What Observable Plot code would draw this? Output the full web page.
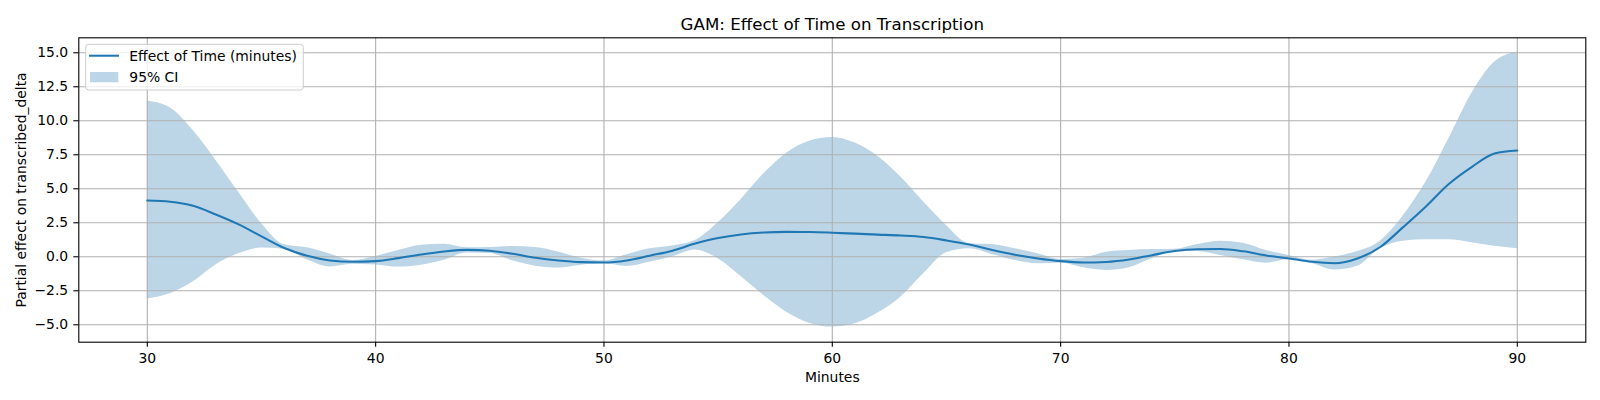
<!DOCTYPE html>
<html>
<head>
<meta charset="utf-8">
<script src="https://cdn.jsdelivr.net/npm/d3@7"></script>
<script src="https://cdn.jsdelivr.net/npm/@observablehq/plot@0.6"></script>
<style>
  html, body { margin: 0; padding: 0; background: white; }
  #chart { width: 1600px; height: 400px; }
</style>
</head>
<body>
<div id="chart"></div>
<script>
const minutes = [30,31,32,33,34,35,36,37,38,39,40,41,42,43,44,45,46,47,48,49,50,51,52,53,54,55,56,57,58,59,60,61,62,63,64,65,66,67,68,69,70,71,72,73,74,75,76,77,78,79,80,81,82,83,84,85,86,87,88,89,90];
const effect = [4.14,4.05,3.75,3.11,2.38,1.5,0.64,0.07,-0.27,-0.37,-0.32,-0.1,0.17,0.39,0.51,0.44,0.22,-0.07,-0.27,-0.39,-0.42,-0.27,0.08,0.45,0.97,1.38,1.64,1.78,1.83,1.82,1.77,1.7,1.63,1.56,1.45,1.2,0.9,0.5,0.15,-0.12,-0.32,-0.42,-0.38,-0.2,0.12,0.42,0.55,0.57,0.4,0.1,-0.12,-0.37,-0.47,-0.12,0.72,2.18,3.7,5.35,6.6,7.6,7.82];
const ciUpper = [11.45,10.95,9.3,7.1,4.75,2.45,0.88,0.66,0.2,-0.27,0.03,0.47,0.85,0.92,0.66,0.69,0.76,0.68,0.35,-0.1,-0.3,0.15,0.59,0.8,1.2,2.5,4.2,6.1,7.62,8.5,8.77,8.36,7.38,5.86,4.02,2.3,0.96,0.9,0.59,0.22,-0.2,-0.1,0.34,0.47,0.54,0.56,0.91,1.15,1.0,0.47,0.1,-0.25,-0.02,0.38,1.15,3.0,5.49,8.68,11.99,14.3,15.05];
const ciLower = [-3.11,-2.72,-1.86,-0.6,0.22,0.64,0.55,-0.22,-0.75,-0.55,-0.6,-0.76,-0.62,-0.25,0.27,0.25,-0.3,-0.69,-0.82,-0.62,-0.5,-0.71,-0.4,0.0,0.5,-0.15,-1.45,-2.84,-4.07,-4.88,-5.17,-4.93,-4.14,-2.97,-1.25,0.29,0.59,0.17,-0.27,-0.51,-0.45,-0.81,-1.0,-0.81,-0.15,0.37,0.39,0.1,-0.22,-0.47,-0.2,-0.5,-0.98,-0.7,0.6,1.15,1.25,1.25,1.03,0.78,0.59];
const xTicks = [30,40,50,60,70,80,90];
const yTicks = [-5,-2.5,0,2.5,5,7.5,10,12.5,15];
const titleText = "GAM: Effect of Time on Transcription";
const xLabel = "Minutes";
const yLabel = "Partial effect on transcribed_delta";
const legendLabels = ["Effect of Time (minutes)", "95% CI"];

const rows = minutes.map((m, i) => ({m, e: effect[i], lo: ciLower[i], hi: ciUpper[i]}));

const blue = "#1f77b4";
const bandColor = "#bcd6e8";
const gridColor = "#b0b0b0";
const font = "DejaVu Sans, sans-serif";
const fs = 13.9;

const W = 1600, H = 400;
const mL = 78.3, mR = 14.7, mT = 37.3, mB = 58.3;

const chart = Plot.plot({
  width: W,
  height: H,
  marginLeft: mL,
  marginRight: mR,
  marginTop: mT,
  marginBottom: mB,
  style: {fontFamily: font, fontSize: fs + "px", color: "black", background: "white", overflow: "visible"},
  x: {domain: [27, 93]},
  y: {domain: [-6.28, 16.10]},
  marks: [
    Plot.areaY(rows, {x: "m", y1: "lo", y2: "hi", fill: bandColor, curve: "monotone-x"}),
    Plot.gridX(xTicks, {stroke: gridColor, strokeOpacity: 1, strokeWidth: 1.1}),
    Plot.gridY(yTicks, {stroke: gridColor, strokeOpacity: 1, strokeWidth: 1.1}),
    Plot.lineY(rows, {x: "m", y: "e", stroke: blue, strokeWidth: 2.08, curve: "monotone-x"}),
    Plot.frame({stroke: "black", strokeWidth: 1.1}),
    Plot.axisX({ticks: xTicks, tickSize: 5, tickPadding: 5.7, tickFormat: d3.format("d"), label: null, stroke: "black", strokeWidth: 1.1, fontSize: fs}),
    Plot.axisY({ticks: yTicks, tickSize: 5, tickPadding: 5.6, tickFormat: d3.format(".1f"), label: null, stroke: "black", strokeWidth: 1.1, fontSize: fs}),
    Plot.text([titleText], {frameAnchor: "top", dy: -13.1, lineAnchor: "middle", fontSize: 16.67, fill: "black"}),
    Plot.text([xLabel], {frameAnchor: "bottom", dy: 35.8, lineAnchor: "middle", fontSize: fs, fill: "black"}),
    Plot.text([yLabel], {frameAnchor: "left", dx: -57.1, rotate: -90, lineAnchor: "middle", textAnchor: "middle", fontSize: fs, fill: "black"})
  ]
});

document.getElementById("chart").appendChild(chart);

// Legend inside the plot (upper left), drawn into the same SVG
const svg = d3.select(chart);
const lg = svg.append("g").attr("font-family", font).attr("font-size", fs + "px").attr("text-anchor", "start");
lg.append("rect").attr("x", 85.7).attr("y", 44.3).attr("width", 217.6).attr("height", 45.7).attr("rx", 3)
  .attr("fill", "white").attr("fill-opacity", 0.8).attr("stroke", "#cccccc").attr("stroke-width", 1);
lg.append("line").attr("x1", 89).attr("x2", 119).attr("y1", 55.7).attr("y2", 55.7)
  .attr("stroke", blue).attr("stroke-width", 2.08);
lg.append("rect").attr("x", 90).attr("y", 72).attr("width", 28.3).attr("height", 10.3).attr("fill", bandColor);
lg.append("text").attr("x", 129.3).attr("y", 61).attr("fill", "black").attr("text-anchor", "start").text(legendLabels[0]);
lg.append("text").attr("x", 129.3).attr("y", 82.3).attr("fill", "black").attr("text-anchor", "start").text(legendLabels[1]);
</script>
</body>
</html>
